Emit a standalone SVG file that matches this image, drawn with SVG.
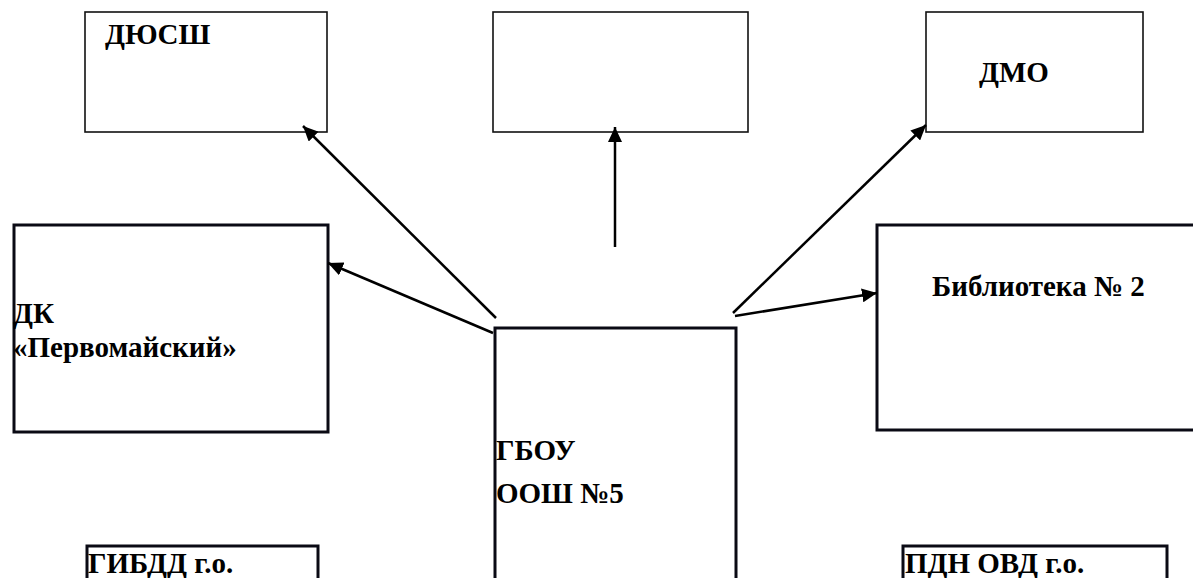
<svg xmlns="http://www.w3.org/2000/svg" width="1193" height="578" viewBox="0 0 1193 578">
<style>
.thin{fill:#fff;stroke:#111;stroke-width:1.6}
.thick{fill:#fff;stroke:#0a0a14;stroke-width:3}
.t{font-family:"Liberation Serif","Times New Roman",serif;font-weight:bold;font-size:29px;fill:#000}
.c{stroke:#000;stroke-width:2.5;fill:none}
</style>
<defs>
<marker id="ah" markerUnits="userSpaceOnUse" markerWidth="16" markerHeight="14" refX="15" refY="7" orient="auto">
<path d="M0,0 L15,7 L0,14 z" fill="#000"/>
</marker>
</defs>
<rect width="1193" height="578" fill="#fff"/>
<g id="dyussh"><rect class="thin" x="85" y="12" width="242" height="120"/><text class="t" x="105" y="44">ДЮСШ</text></g>
<g id="center-top"><rect class="thin" x="493" y="12" width="255" height="120"/></g>
<g id="dmo"><rect class="thin" x="926" y="12" width="217" height="120"/><text class="t" x="979" y="82">ДМО</text></g>
<g id="dk"><rect class="thick" x="14" y="225" width="314" height="207"/><text class="t" x="13" y="323">ДК</text><text class="t" x="13" y="357">«Первомайский»</text></g>
<g id="library"><rect class="thick" x="877" y="225" width="330" height="205"/><text class="t" x="932" y="296">Библиотека № 2</text></g>
<g id="gbou"><rect class="thick" x="495" y="328" width="241" height="270"/><text class="t" x="496" y="460">ГБОУ</text><text class="t" x="496" y="503">ООШ №5</text></g>
<g id="gibdd"><rect class="thick" x="87" y="546" width="231" height="60"/><text class="t" x="88" y="573">ГИБДД г.о.</text></g>
<g id="pdn"><rect class="thick" x="903" y="546" width="264" height="60"/><text class="t" x="905" y="573">ПДН ОВД г.о.</text></g>
<g id="connectors">
<line class="c" x1="496" y1="318" x2="303" y2="126" marker-end="url(#ah)"/>
<line class="c" x1="493" y1="333" x2="328" y2="263" marker-end="url(#ah)"/>
<line class="c" x1="615" y1="247" x2="615" y2="127" marker-end="url(#ah)"/>
<line class="c" x1="733" y1="313" x2="926" y2="125" marker-end="url(#ah)"/>
<line class="c" x1="735" y1="316" x2="877" y2="293" marker-end="url(#ah)"/>
</g>
</svg>
